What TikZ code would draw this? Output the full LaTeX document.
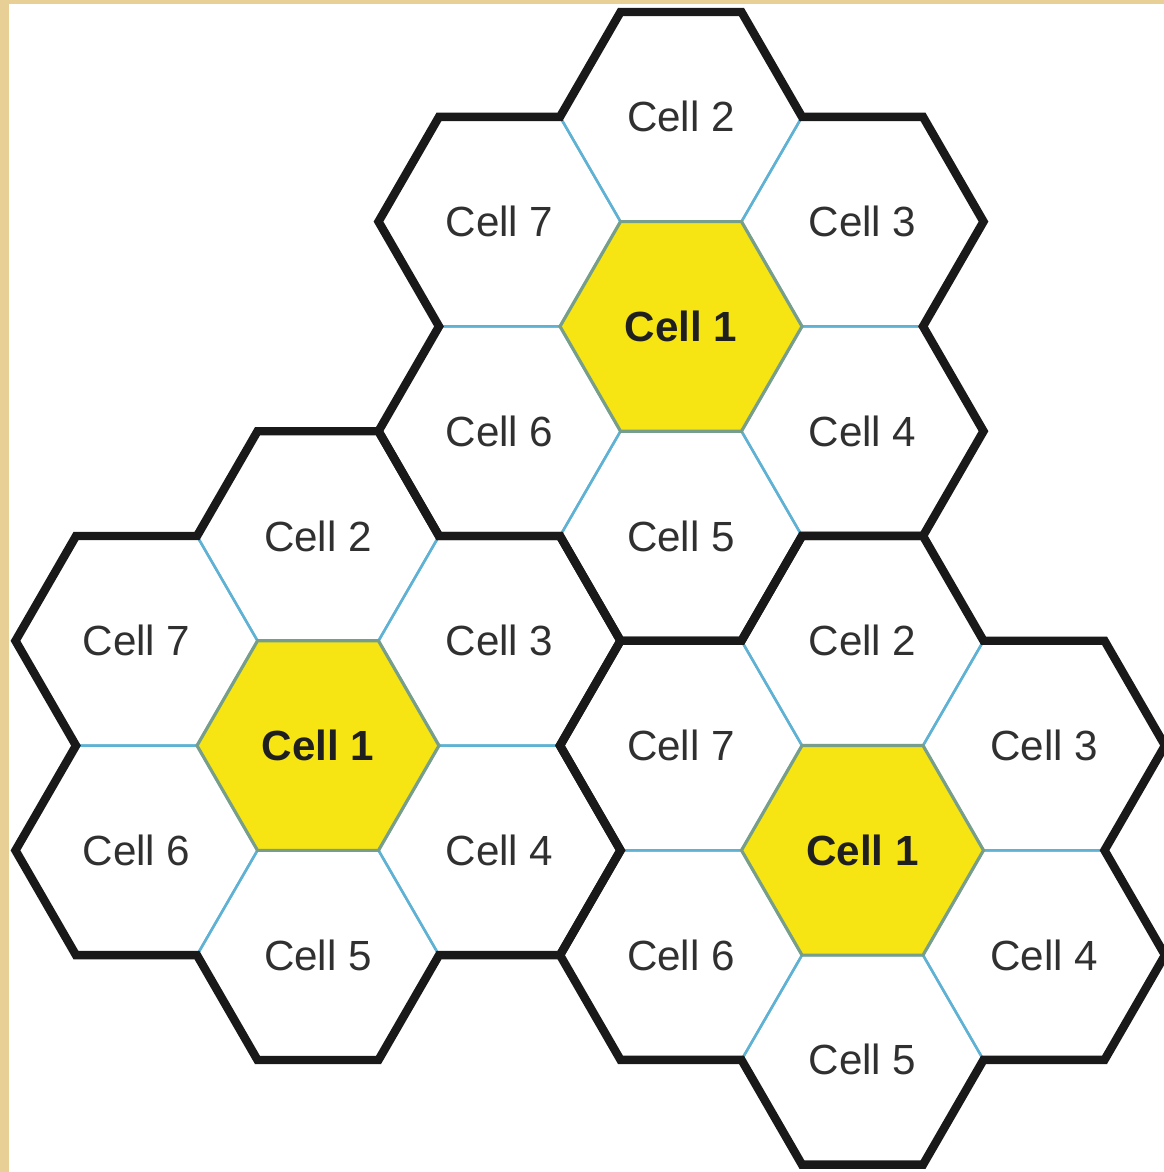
\documentclass[tikz,border=0pt]{standalone}
\usepackage{fontspec}
\setmainfont{Liberation Sans}
\usetikzlibrary{shapes.geometric}

\definecolor{cellyellow}{RGB}{246,229,18}
\definecolor{cellblue}{RGB}{95,178,212}
\definecolor{hubedge}{RGB}{118,158,138}
\definecolor{frametan}{RGB}{232,207,150}
\definecolor{labelgray}{RGB}{48,48,48}

\begin{document}
\begin{tikzpicture}[
		font=\fontsize{12}{14}\selectfont,
		cell/.style={regular polygon,regular polygon sides=6,minimum size=2.42cm,inner sep=0pt,outer sep=0pt,draw=cellblue,line width=0.7pt,text=labelgray},
		hub/.style={cell,fill=cellyellow,draw=hubedge,line width=0.9pt,text=black!88,font=\fontsize{12}{14}\selectfont\bfseries},
		outline/.style={draw=black!90,line width=2.4pt,line join=miter}
		]
		
		% =====================================================
		% Page frame
		% =====================================================
		\fill[frametan] (0,0) rectangle (11.64,-11.72);
		\fill[white] (0.09,-0.04) rectangle (11.64,-11.72);
		\useasboundingbox (0,0) rectangle (11.64,-11.72);
		
		% =====================================================
		% Upper cluster
		% =====================================================
		\node[cell] (a2) at (6.81,-1.168) {Cell 2};
		\node[cell] (a3) at (8.625,-2.216) {Cell 3};
		\node[cell] (a4) at (8.625,-4.312) {Cell 4};
		\node[cell] (a5) at (6.81,-5.360) {Cell 5};
		\node[cell] (a6) at (4.995,-4.312) {Cell 6};
		\node[cell] (a7) at (4.995,-2.216) {Cell 7};
		\node[hub] (a1) at (6.81,-3.264) {Cell 1};
		
		% =====================================================
		% Left cluster
		% =====================================================
		\node[cell] (b2) at (3.18,-5.360) {Cell 2};
		\node[cell] (b3) at (4.995,-6.408) {Cell 3};
		\node[cell] (b4) at (4.995,-8.503) {Cell 4};
		\node[cell] (b5) at (3.18,-9.551) {Cell 5};
		\node[cell] (b6) at (1.365,-8.503) {Cell 6};
		\node[cell] (b7) at (1.365,-6.408) {Cell 7};
		\node[hub] (b1) at (3.18,-7.456) {Cell 1};
		
		% =====================================================
		% Right cluster
		% =====================================================
		\node[cell] (c2) at (8.625,-6.408) {Cell 2};
		\node[cell] (c3) at (10.44,-7.456) {Cell 3};
		\node[cell] (c4) at (10.44,-9.551) {Cell 4};
		\node[cell] (c5) at (8.625,-10.599) {Cell 5};
		\node[cell] (c6) at (6.81,-9.551) {Cell 6};
		\node[cell] (c7) at (6.81,-7.456) {Cell 7};
		\node[hub] (c1) at (8.625,-8.503) {Cell 1};
		
		% =====================================================
		% Cluster borders
		% start at the right corner, go round counter-clockwise
		% =====================================================
		\draw[outline] (a1.center) ++(0:2.42) -- ++(60:1.21) -- ++(120:1.21) -- ++(180:1.21)
		-- ++(120:1.21) -- ++(180:1.21) -- ++(240:1.21) -- ++(180:1.21) -- ++(240:1.21)
		-- ++(300:1.21) -- ++(240:1.21) -- ++(300:1.21) -- ++(0:1.21) -- ++(300:1.21)
		-- ++(0:1.21) -- ++(60:1.21) -- ++(0:1.21) -- ++(60:1.21) -- cycle;
		
		\draw[outline] (b1.center) ++(0:2.42) -- ++(60:1.21) -- ++(120:1.21) -- ++(180:1.21)
		-- ++(120:1.21) -- ++(180:1.21) -- ++(240:1.21) -- ++(180:1.21) -- ++(240:1.21)
		-- ++(300:1.21) -- ++(240:1.21) -- ++(300:1.21) -- ++(0:1.21) -- ++(300:1.21)
		-- ++(0:1.21) -- ++(60:1.21) -- ++(0:1.21) -- ++(60:1.21) -- cycle;
		
		\draw[outline] (c1.center) ++(0:2.42) -- ++(60:1.21) -- ++(120:1.21) -- ++(180:1.21)
		-- ++(120:1.21) -- ++(180:1.21) -- ++(240:1.21) -- ++(180:1.21) -- ++(240:1.21)
		-- ++(300:1.21) -- ++(240:1.21) -- ++(300:1.21) -- ++(0:1.21) -- ++(300:1.21)
		-- ++(0:1.21) -- ++(60:1.21) -- ++(0:1.21) -- ++(60:1.21) -- cycle;
		
	\end{tikzpicture}
\end{document}
